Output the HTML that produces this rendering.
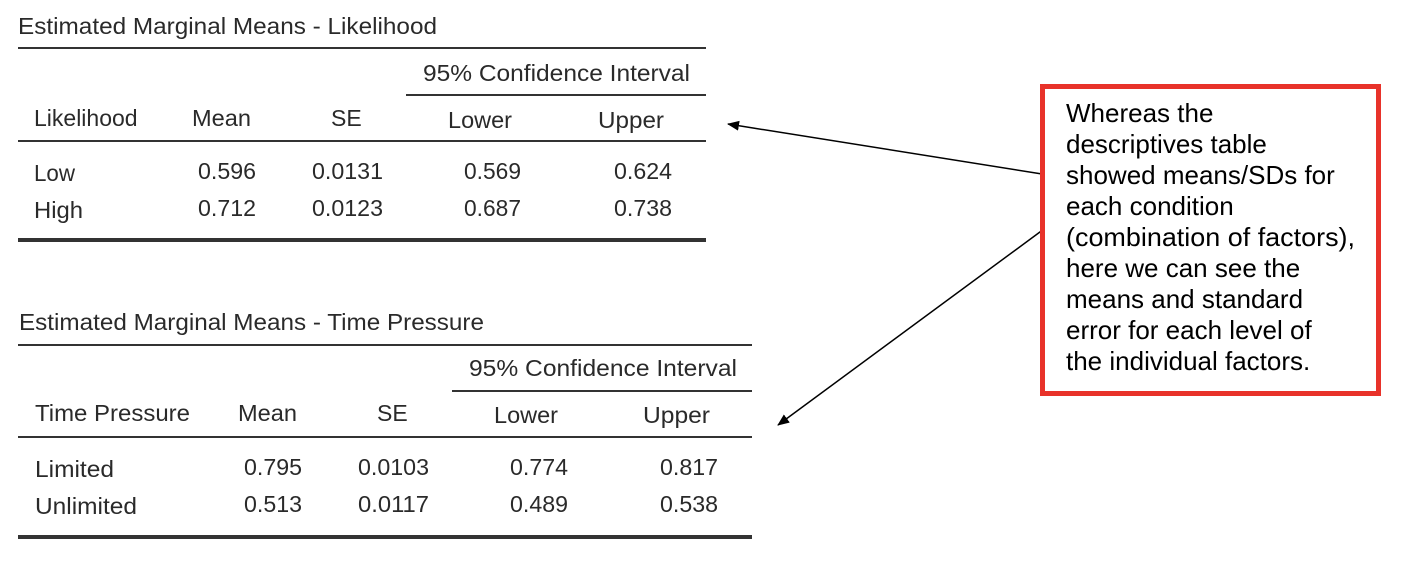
<!DOCTYPE html>
<html><head><meta charset="utf-8"><style>
html,body{margin:0;padding:0;background:#fff;width:1408px;height:562px;overflow:hidden}
svg{display:block}
.t{font-family:"Liberation Sans",sans-serif;font-size:23px;fill:#2a2a2a}
.b{font-family:"Liberation Sans",sans-serif;font-size:26px;fill:#000}
</style></head><body>
<svg width="1408" height="562" viewBox="0 0 1408 562" xmlns="http://www.w3.org/2000/svg">
<defs><marker id="ah" markerWidth="12" markerHeight="10" refX="11" refY="5" orient="auto" markerUnits="userSpaceOnUse"><path d="M0,0 L12,5 L0,10 z" fill="#000"/></marker></defs>
<g class="t" dominant-baseline="central">
<text x="18" y="26" textLength="419" lengthAdjust="spacingAndGlyphs">Estimated Marginal Means - Likelihood</text>
<line x1="18" y1="48" x2="706" y2="48" stroke="#333" stroke-width="2"/>
<text x="423" y="73" textLength="267" lengthAdjust="spacingAndGlyphs">95% Confidence Interval</text>
<line x1="406" y1="95" x2="706" y2="95" stroke="#333" stroke-width="2"/>
<text x="34" y="118">Likelihood</text>
<text x="192" y="118" textLength="59" lengthAdjust="spacingAndGlyphs">Mean</text>
<text x="331" y="118">SE</text>
<text x="448" y="120" textLength="64" lengthAdjust="spacingAndGlyphs">Lower</text>
<text x="598" y="120" textLength="66" lengthAdjust="spacingAndGlyphs">Upper</text>
<line x1="18" y1="141" x2="706" y2="141" stroke="#333" stroke-width="2"/>
<text x="34" y="173" textLength="41" lengthAdjust="spacingAndGlyphs">Low</text>
<text x="198" y="171" textLength="58" lengthAdjust="spacingAndGlyphs">0.596</text>
<text x="312" y="171" textLength="71" lengthAdjust="spacingAndGlyphs">0.0131</text>
<text x="464" y="171" textLength="57" lengthAdjust="spacingAndGlyphs">0.569</text>
<text x="614" y="171" textLength="58" lengthAdjust="spacingAndGlyphs">0.624</text>
<text x="34" y="210" textLength="49" lengthAdjust="spacingAndGlyphs">High</text>
<text x="198" y="208" textLength="58" lengthAdjust="spacingAndGlyphs">0.712</text>
<text x="312" y="208" textLength="71" lengthAdjust="spacingAndGlyphs">0.0123</text>
<text x="464" y="208" textLength="57" lengthAdjust="spacingAndGlyphs">0.687</text>
<text x="614" y="208" textLength="58" lengthAdjust="spacingAndGlyphs">0.738</text>
<line x1="18" y1="240" x2="706" y2="240" stroke="#333" stroke-width="4"/>
<text x="19" y="322" textLength="465" lengthAdjust="spacingAndGlyphs">Estimated Marginal Means - Time Pressure</text>
<line x1="18" y1="345" x2="752" y2="345" stroke="#333" stroke-width="2"/>
<text x="469" y="368" textLength="268" lengthAdjust="spacingAndGlyphs">95% Confidence Interval</text>
<line x1="452" y1="391" x2="752" y2="391" stroke="#333" stroke-width="2"/>
<text x="35" y="413" textLength="155" lengthAdjust="spacingAndGlyphs">Time Pressure</text>
<text x="238" y="413" textLength="59" lengthAdjust="spacingAndGlyphs">Mean</text>
<text x="377" y="413">SE</text>
<text x="494" y="415" textLength="64" lengthAdjust="spacingAndGlyphs">Lower</text>
<text x="643" y="415" textLength="67" lengthAdjust="spacingAndGlyphs">Upper</text>
<line x1="18" y1="437" x2="752" y2="437" stroke="#333" stroke-width="2"/>
<text x="35" y="469" textLength="79" lengthAdjust="spacingAndGlyphs">Limited</text>
<text x="244" y="467" textLength="58" lengthAdjust="spacingAndGlyphs">0.795</text>
<text x="358" y="467" textLength="71" lengthAdjust="spacingAndGlyphs">0.0103</text>
<text x="510" y="467" textLength="58" lengthAdjust="spacingAndGlyphs">0.774</text>
<text x="660" y="467" textLength="58" lengthAdjust="spacingAndGlyphs">0.817</text>
<text x="35" y="506" textLength="102" lengthAdjust="spacingAndGlyphs">Unlimited</text>
<text x="244" y="504" textLength="58" lengthAdjust="spacingAndGlyphs">0.513</text>
<text x="358" y="504" textLength="71" lengthAdjust="spacingAndGlyphs">0.0117</text>
<text x="510" y="504" textLength="58" lengthAdjust="spacingAndGlyphs">0.489</text>
<text x="660" y="504" textLength="58" lengthAdjust="spacingAndGlyphs">0.538</text>
<line x1="18" y1="537" x2="752" y2="537" stroke="#333" stroke-width="4"/>
</g>
<line x1="1042" y1="174" x2="728" y2="124" stroke="#000" stroke-width="1.5" marker-end="url(#ah)"/>
<line x1="1044" y1="229" x2="778" y2="425" stroke="#000" stroke-width="1.5" marker-end="url(#ah)"/>
<rect x="1042.5" y="86.5" width="336" height="307" fill="#fff" stroke="#e8322a" stroke-width="5"/>
<g class="b" dominant-baseline="central">
<text x="1066" y="113">Whereas the</text>
<text x="1066" y="144">descriptives table</text>
<text x="1066" y="175">showed means/SDs for</text>
<text x="1066" y="206">each condition</text>
<text x="1066" y="237" textLength="289" lengthAdjust="spacingAndGlyphs">(combination of factors),</text>
<text x="1066" y="268">here we can see the</text>
<text x="1066" y="299">means and standard</text>
<text x="1066" y="330">error for each level of</text>
<text x="1066" y="361">the individual factors.</text>
</g>
</svg>
</body></html>
